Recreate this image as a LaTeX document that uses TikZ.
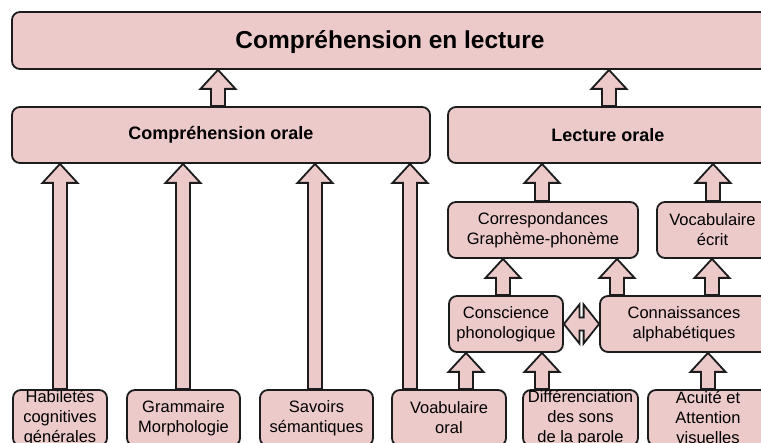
\documentclass[tikz,border=0pt]{standalone}
\usepackage{fontspec}
\setmainfont{Liberation Sans}
\usetikzlibrary{calc}
\definecolor{boxfill}{HTML}{EDCACA}
\definecolor{boxline}{HTML}{1C1C1C}
\pgfdeclarelayer{bg}
\pgfdeclarelayer{paper}
\pgfsetlayers{paper,bg,main}
\tikzset{
  box/.style={draw=boxline, fill=boxfill, line width=1.8pt, rounded corners=8pt,
    align=center, inner sep=0pt, font=\fontsize{16.5}{20}\selectfont},
  blockarr/.style={draw=boxline, fill=boxfill, line width=1.8pt, line join=miter},
}
\newcommand{\blockup}[3]{%
  \begin{pgfonlayer}{bg}
  \path[blockarr] let \p1=(#1,0 |- #2.north), \p2=(#1,0 |- #3.south) in
    (\x1-7pt,\y1) -- (\x1-7pt,\y2-19pt) -- (\x1-17.5pt,\y2-19pt) -- (\x1,\y2)
    -- (\x1+17.5pt,\y2-19pt) -- (\x1+7pt,\y2-19pt) -- (\x1+7pt,\y1) -- cycle;
  \end{pgfonlayer}}
\begin{document}
\begin{tikzpicture}[x=1pt,y=-1pt]
\useasboundingbox (0,0) rectangle (761,443);
\begin{pgfonlayer}{paper}
\fill[white] (0,0) rectangle (761,443);
\end{pgfonlayer}
\clip (0,0) rectangle (761,443);
% boxes
\node[box, minimum width=756, minimum height=57, font=\bfseries\fontsize{24.5}{28}\selectfont, text height=20pt, text depth=3pt] (top) at (390,40.5) {Compréhension en lecture};
\node[box, minimum width=418, minimum height=56, font=\bfseries\fontsize{18}{22}\selectfont] (co) at (221,135) {Compréhension orale};
\node[box, minimum width=320, minimum height=56, font=\bfseries\fontsize{18}{22}\selectfont] (lo) at (608,135) {Lecture orale};
\node[box, minimum width=190, minimum height=56] (cgp) at (543,230) {Correspondances\\Graphème-phonème};
\node[box, minimum width=111, minimum height=56] (ve) at (712.5,230) {Vocabulaire\\écrit};
\node[box, minimum width=114, minimum height=56] (cp) at (506,324) {Conscience\\phonologique};
\node[box, minimum width=168, minimum height=56] (ca) at (684,324) {Connaissances\\alphabétiques};
\node[box, minimum width=94, minimum height=56] (hab) at (60,418) {Habiletés\\cognitives\\générales};
\node[box, minimum width=113, minimum height=56] (gram) at (183.5,418) {Grammaire\\Morphologie};
\node[box, minimum width=113, minimum height=56] (sav) at (316.5,418) {Savoirs\\sémantiques};
\node[box, minimum width=114, minimum height=56] (voa) at (449,418) {Voabulaire\\oral};
\node[box, minimum width=115, minimum height=56] (dif) at (580.5,418) {Différenciation\\des sons\\de la parole};
\node[box, minimum width=120, minimum height=56] (acu) at (708,418) {Acuité et\\Attention\\visuelles};
% arrows
\blockup{218}{co}{top}
\blockup{609}{lo}{top}
\blockup{60}{hab}{co}
\blockup{183}{gram}{co}
\blockup{315}{sav}{co}
\blockup{410}{voa}{co}
\blockup{542}{cgp}{lo}
\blockup{713}{ve}{lo}
\blockup{503}{cp}{cgp}
\blockup{617}{ca}{cgp}
\blockup{712}{ca}{ve}
\blockup{466}{voa}{cp}
\blockup{542}{dif}{cp}
\blockup{708}{acu}{ca}
% double arrow
\begin{pgfonlayer}{bg}
\path[blockarr] let \p1=(cp.east), \p2=(ca.west) in
  (\x1,\y1) -- (\x1+15.5pt,\y1+19.5pt) -- (\x1+15.5pt,\y1+6.5pt) -- (\x2-15.5pt,\y1+6.5pt)
  -- (\x2-15.5pt,\y1+19.5pt) -- (\x2,\y1) -- (\x2-15.5pt,\y1-19.5pt) -- (\x2-15.5pt,\y1-6.5pt)
  -- (\x1+15.5pt,\y1-6.5pt) -- (\x1+15.5pt,\y1-19.5pt) -- cycle;
\end{pgfonlayer}
\end{tikzpicture}
\end{document}
